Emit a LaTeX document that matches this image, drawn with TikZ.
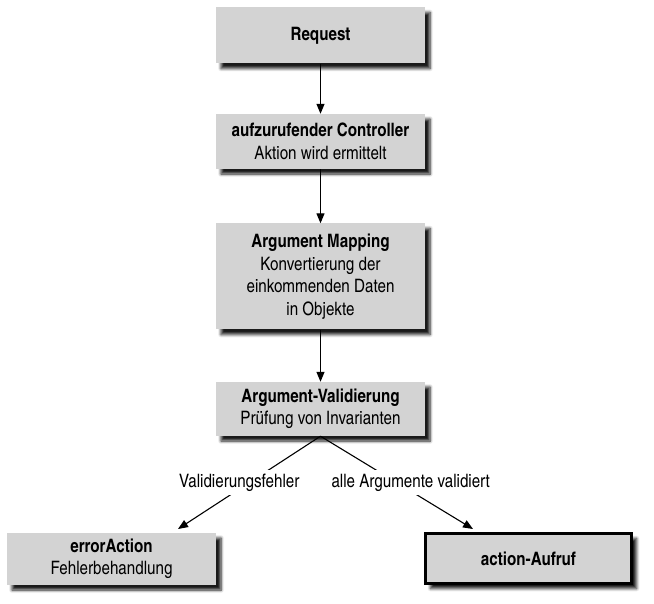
\documentclass[tikz,border=0pt]{standalone}
\usepackage{fontspec}
\setmainfont{texgyreheroscn}[Extension=.otf, UprightFont=*-regular, BoldFont=*-bold]
\usepackage{tikz}
\usetikzlibrary{arrows.meta,shadows.blur}

\definecolor{boxgray}{RGB}{211,211,211}

\tikzset{
  stepbox/.style={fill=boxgray, minimum width=209pt, align=center, inner sep=0pt,
    blur shadow={shadow xshift=5pt, shadow yshift=-5pt, shadow blur radius=3pt,
      shadow blur steps=6, shadow opacity=90}},
  endbox/.style={stepbox, draw=black, line width=3pt, minimum width=206pt},
  branch label/.style={fill=white, inner sep=4pt},
}

\begin{document}
\begin{tikzpicture}[x=1pt, y=-1pt, >={Triangle[length=10pt,width=8pt]},
    font=\fontsize{18.5}{22.5}\selectfont]

\useasboundingbox (0,0) rectangle (654,604);

\node [stepbox, minimum height=56pt] (request) at (320.5,35.5) {\textbf{Request}};
\node [stepbox, minimum height=55pt] (controller) at (320.5,141.5)
  {\textbf{aufzurufender Controller}\\Aktion wird ermittelt};
\node [stepbox, minimum height=106pt] (mapping) at (320.5,276.5)
  {\textbf{Argument Mapping}\\Konvertierung der\\einkommenden Daten\\in Objekte};
\node [stepbox, minimum height=54pt] (valid) at (320.5,409)
  {\textbf{Argument-Validierung}\\Prüfung von Invarianten};

\node [stepbox, minimum height=52pt] (error) at (111.5,559)
  {\textbf{errorAction}\\Fehlerbehandlung};
\node [endbox, minimum height=50pt] (call) at (528.5,558.5) {\textbf{action-Aufruf}};

\coordinate (error-in) at (178,529);
\coordinate (call-in) at (473,529);

\foreach \a/\b in {request/controller, controller/mapping, mapping/valid}
  \draw [->, line width=1.1pt] (\a) -- (\b);

\draw [->, line width=1.1pt] (valid.south) -- (error-in)
  node [branch label, pos=0.5, xshift=-10pt] {Validierungsfehler};
\draw [->, line width=1.1pt] (valid.south) -- (call-in)
  node [branch label, pos=0.5, xshift=14pt] {alle Argumente validiert};

\end{tikzpicture}
\end{document}
